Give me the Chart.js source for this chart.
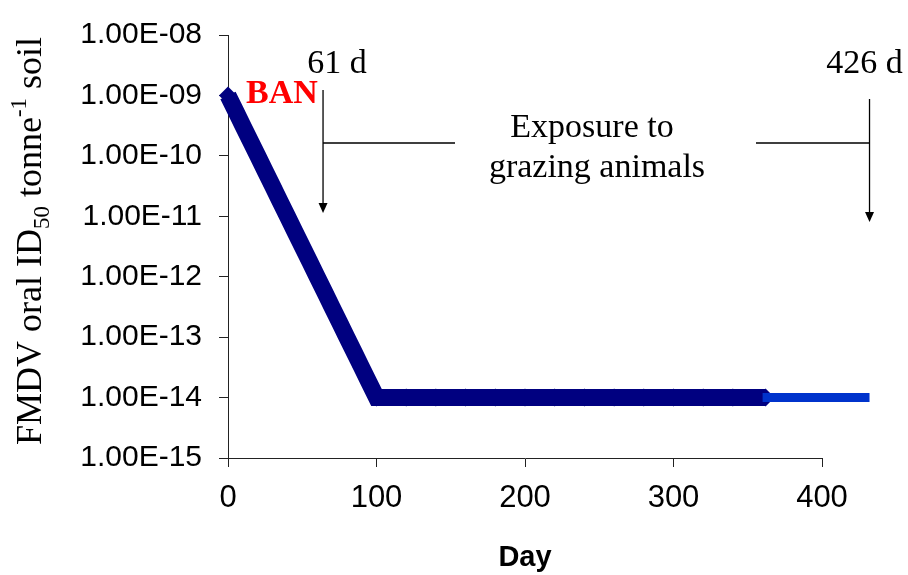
<!DOCTYPE html>
<html>
<head>
<meta charset="utf-8">
<script src="https://cdn.jsdelivr.net/npm/chart.js@4.4.0/dist/chart.umd.min.js"></script>
<style>
    html, body { margin: 0; padding: 0; background: #fff; }
    #wrap { width: 908px; height: 575px; position: relative; }
</style>
</head>
<body>
<div id="wrap"><canvas id="fmdvChart"></canvas></div>
<script>
// Values
const decayDays = [0, 5, 10, 15, 20, 25, 30, 35, 40, 45, 50, 55, 60, 65, 70, 75, 80, 85, 90, 95, 100,
    120, 140, 160, 180, 200, 220, 240, 260, 280, 300, 320, 340, 362];
const decayValues = [1.00e-9, 5.62e-10, 3.16e-10, 1.78e-10, 1.00e-10, 5.62e-11, 3.16e-11, 1.78e-11,
    1.00e-11, 5.62e-12, 3.16e-12, 1.78e-12, 1.00e-12, 5.62e-13, 3.16e-13, 1.78e-13, 1.00e-13,
    5.62e-14, 3.16e-14, 1.78e-14, 1.00e-14,
    1e-14, 1e-14, 1e-14, 1e-14, 1e-14, 1e-14, 1e-14, 1e-14, 1e-14, 1e-14, 1e-14, 1e-14, 1e-14];
const tailDays = [360, 432];
const tailValues = [1e-14, 1e-14];

const yTicks = [1e-15, 1e-14, 1e-13, 1e-12, 1e-11, 1e-10, 1e-9, 1e-8];
const yTickLabels = ['1.00E-15', '1.00E-14', '1.00E-13', '1.00E-12', '1.00E-11', '1.00E-10', '1.00E-09', '1.00E-08'];
const xTicks = [0, 100, 200, 300, 400];

// Exposure window markers (days)
const exposureStart = 64;
const exposureEnd = 432;

const SANS = "'Liberation Sans', Arial, sans-serif";
const SERIF = "'Liberation Serif', 'Times New Roman', serif";

function arrowDown(ctx, x, y1, y2) {
    ctx.beginPath();
    ctx.moveTo(x, y1);
    ctx.lineTo(x, y2 - 8);
    ctx.stroke();
    ctx.beginPath();
    ctx.moveTo(x - 4.5, y2 - 10);
    ctx.lineTo(x + 4.5, y2 - 10);
    ctx.lineTo(x, y2);
    ctx.closePath();
    ctx.fill();
}

function drawYTitle(ctx, cx, cy) {
    const parts = [
        { t: 'FMDV oral ID', size: 36, dy: 0 },
        { t: '50', size: 23, dy: 8 },
        { t: ' tonne', size: 36, dy: 0 },
        { t: '-1', size: 23, dy: -15 },
        { t: ' soil', size: 36, dy: 0 }
    ];
    let total = 0;
    parts.forEach(p => {
        ctx.font = p.size + 'px ' + SERIF;
        p.w = ctx.measureText(p.t).width;
        total += p.w;
    });
    ctx.save();
    ctx.translate(cx, cy);
    ctx.rotate(-Math.PI / 2);
    ctx.textBaseline = 'alphabetic';
    ctx.textAlign = 'left';
    let x = -total / 2;
    parts.forEach(p => {
        ctx.font = p.size + 'px ' + SERIF;
        ctx.fillText(p.t, x, p.dy);
        x += p.w;
    });
    ctx.restore();
}

const annotationPlugin = {
    id: 'annotations',
    afterDraw(chart) {
        const ctx = chart.ctx;
        const xs = chart.scales.x;
        const x1 = xs.getPixelForValue(exposureStart);
        const x2 = xs.getPixelForValue(exposureEnd);

        ctx.save();
        ctx.fillStyle = '#000';
        ctx.strokeStyle = '#000';
        ctx.lineWidth = 1.3;

        // brackets and arrows
        arrowDown(ctx, x1, 90, 213);
        arrowDown(ctx, x2, 99, 222);
        ctx.beginPath();
        ctx.moveTo(x1, 143);
        ctx.lineTo(455, 143);
        ctx.moveTo(756, 143);
        ctx.lineTo(x2, 143);
        ctx.stroke();

        // labels
        ctx.font = '34px ' + SERIF;
        ctx.textBaseline = 'alphabetic';
        ctx.textAlign = 'center';
        ctx.fillText('61 d', x1 + 14, 73);
        ctx.fillText('426 d', x2 - 5, 73);
        ctx.fillText('Exposure to', 592, 137);
        ctx.fillText('grazing animals', 597, 177);

        ctx.font = 'bold 34px ' + SERIF;
        ctx.fillStyle = '#ff0000';
        ctx.textAlign = 'left';
        ctx.fillText('BAN', 246, 103);

        ctx.fillStyle = '#000';
        drawYTitle(ctx, 41, 241);
        ctx.restore();
    }
};

document.addEventListener('DOMContentLoaded', function() {
    const ctx = document.getElementById('fmdvChart').getContext('2d');
    new Chart(ctx, {
        type: 'line',
        data: {
            datasets: [{
                label: 'Grazing period',
                data: tailDays.map((d, i) => ({ x: d, y: tailValues[i] })),
                borderColor: '#0033cc',
                borderWidth: 9,
                pointRadius: 0,
                clip: false,
                order: 0
            },
            {
                label: 'FMDV in soil',
                data: decayDays.map((d, i) => ({ x: d, y: decayValues[i] })),
                borderColor: '#000080',
                backgroundColor: '#000080',
                borderWidth: 17,
                pointStyle: 'rectRot',
                pointRadius: 9,
                pointBorderWidth: 0,
                pointBackgroundColor: '#000080',
                clip: false,
                order: 1
            }]
        },
        options: {
            responsive: true,
            maintainAspectRatio: false,
            animation: false,
            layout: {
                padding: { top: 28, right: 86, bottom: 0, left: 0 }
            },
            plugins: {
                legend: { display: false },
                tooltip: { enabled: false }
            },
            scales: {
                x: {
                    type: 'linear',
                    min: 0,
                    max: 400,
                    afterFit: function(scale) { scale.height = 117; },
                    afterBuildTicks: function(scale) {
                        scale.ticks = xTicks.map(v => ({ value: v }));
                    },
                    grid: { drawOnChartArea: false, tickLength: 9, color: '#222' },
                    border: { color: '#222', width: 1 },
                    ticks: {
                        padding: 13,
                        color: '#000',
                        font: { family: SANS, size: 31 }
                    },
                    title: {
                        display: true,
                        text: 'Day',
                        color: '#000',
                        padding: { top: 0, bottom: 0 },
                        font: { family: SANS, size: 29, weight: 'bold' }
                    }
                },
                y: {
                    type: 'logarithmic',
                    min: 1e-15,
                    max: 1e-8,
                    afterFit: function(scale) { scale.width = 228; },
                    afterBuildTicks: function(scale) {
                        scale.ticks = yTicks.map(v => ({ value: v }));
                    },
                    grid: { drawOnChartArea: false, tickLength: 9, color: '#222' },
                    border: { color: '#222', width: 1 },
                    ticks: {
                        padding: 17,
                        color: '#000',
                        font: { family: SANS, size: 30 },
                        callback: function(value) {
                            const i = yTicks.findIndex(t => Math.abs(Math.log10(t) - Math.log10(value)) < 1e-6);
                            return i >= 0 ? yTickLabels[i] : '';
                        }
                    }
                }
            }
        },
        plugins: [annotationPlugin]
    });
});
</script>
</body>
</html>
